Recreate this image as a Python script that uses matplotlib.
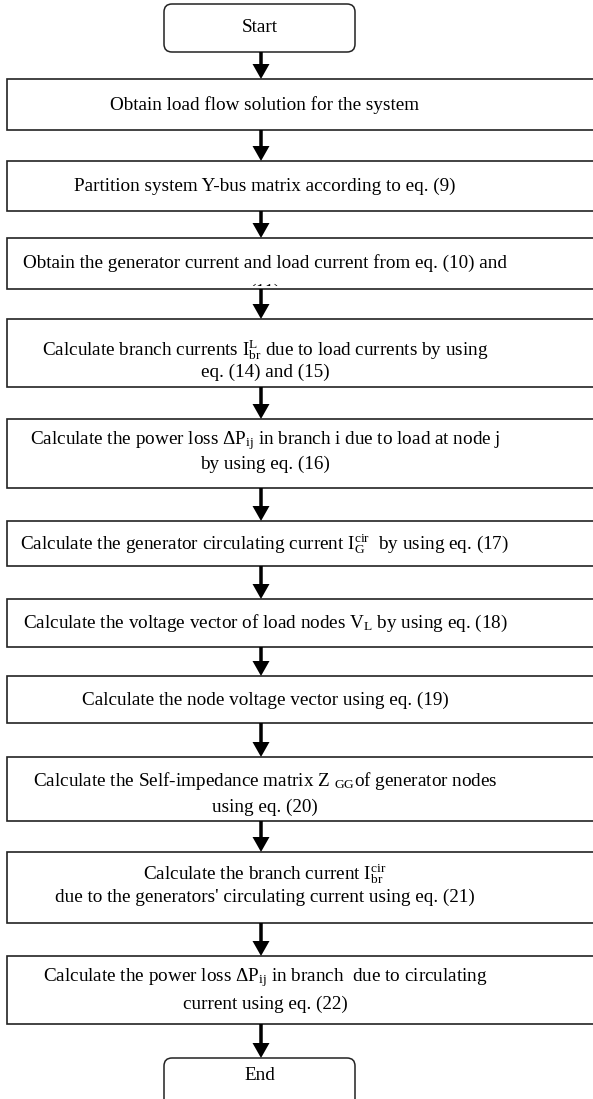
import matplotlib
matplotlib.use("Agg")
import matplotlib.pyplot as plt
from matplotlib.patches import Rectangle, FancyBboxPatch
from matplotlib.transforms import Bbox, TransformedBbox

plt.rcParams["font.family"] = ["Liberation Serif", "DejaVu Serif"]
plt.rcParams["mathtext.fontset"] = "custom"
plt.rcParams["mathtext.rm"] = "Liberation Serif"
plt.rcParams["mathtext.it"] = "Liberation Serif:italic"
plt.rcParams["mathtext.bf"] = "Liberation Serif:bold"

# flowchart content
start_label = "Start"
end_label = "End"
step_lines = [
    ["Obtain load flow solution for the system"],
    ["Partition system Y-bus matrix according to eq. (9)"],
    ["Obtain the generator current and load current from eq. (10) and", "(11)"],
    [r"Calculate branch currents $\mathrm{I}_{\mathrm{br}}^{\mathrm{L}}$ due to load currents by using",
     "eq. (14) and (15)"],
    [r"Calculate the power loss $\Delta\mathrm{P}_{\mathrm{ij}}$ in branch i due to load at node j",
     "by using eq. (16)"],
    [r"Calculate the generator circulating current $\mathrm{I}_{\mathrm{G}}^{\mathrm{cir}}$  by using eq. (17)"],
    [r"Calculate the voltage vector of load nodes $\mathrm{V}_{\mathrm{L}}$ by using eq. (18)"],
    ["Calculate the node voltage vector using eq. (19)"],
    [r"Calculate the Self-impedance matrix Z $_{\mathrm{GG}}$of generator nodes",
     "using eq. (20)"],
    [r"Calculate the branch current $\mathrm{I}_{\mathrm{br}}^{\mathrm{cir}}$",
     "due to the generators' circulating current using eq. (21)"],
    [r"Calculate the power loss $\Delta\mathrm{P}_{\mathrm{ij}}$ in branch  due to circulating",
     "current using eq. (22)"],
]

# layout (pixels, y grows downward)
W, H = 593, 1099
cx = 261
text_x = 265
box_left, box_right = 7, 640
box_top = [79, 161, 238, 319, 419, 521, 599, 676, 757, 852, 956]
box_bot = [130, 211, 289, 387, 488, 566, 647, 723, 821, 923, 1024]
first_line_y = [105, 186, 263, 350, 441, 544, 623, 700, 781, 874, 978]
line_gap = [23, 23, 29, 22, 23, 23, 23, 23, 26, 23, 26]
clip_inset = 3
term_x = (164, 355)
start_y = (4, 52, 28)
end_y = (1058, 1120, 1075)
fs = 13.8

fig = plt.figure(figsize=(W / 100, H / 100), dpi=100)
ax = fig.add_axes([0, 0, 1, 1])
ax.set_xlim(0, W)
ax.set_ylim(H, 0)
ax.axis("off")


def terminal(y0, y1, ty, label):
    p = FancyBboxPatch((term_x[0], y0), term_x[1] - term_x[0], y1 - y0,
                       boxstyle="round,pad=0,rounding_size=8",
                       facecolor="white", edgecolor="#222222", linewidth=1.1)
    ax.add_patch(p)
    ax.text((term_x[0] + term_x[1]) / 2, ty, label,
            ha="center", va="center", fontsize=fs)


def arrow(y0, y1):
    ax.arrow(cx, y0, 0, y1 - y0, width=3.5, head_width=17, head_length=15,
             length_includes_head=True, color="black", linewidth=0)


terminal(*start_y, start_label)
arrow(start_y[1], box_top[0])

for i, lines in enumerate(step_lines):
    rect = Rectangle((box_left, box_top[i]), box_right - box_left, box_bot[i] - box_top[i],
                     facecolor="white", edgecolor="#222222", linewidth=1.2)
    ax.add_patch(rect)
    clip = TransformedBbox(Bbox.from_extents(box_left, box_top[i] + 1,
                                             box_right, box_bot[i] - clip_inset), ax.transData)
    for k, line in enumerate(lines):
        t = ax.text(text_x, first_line_y[i] + k * line_gap[i], line,
                    ha="center", va="center", fontsize=fs)
        t.set_clip_box(clip)
        t.set_clip_on(True)
    nxt = box_top[i + 1] if i + 1 < len(box_top) else end_y[0]
    arrow(box_bot[i], nxt)

terminal(*end_y, end_label)

fig.savefig("out.png", dpi=100)
